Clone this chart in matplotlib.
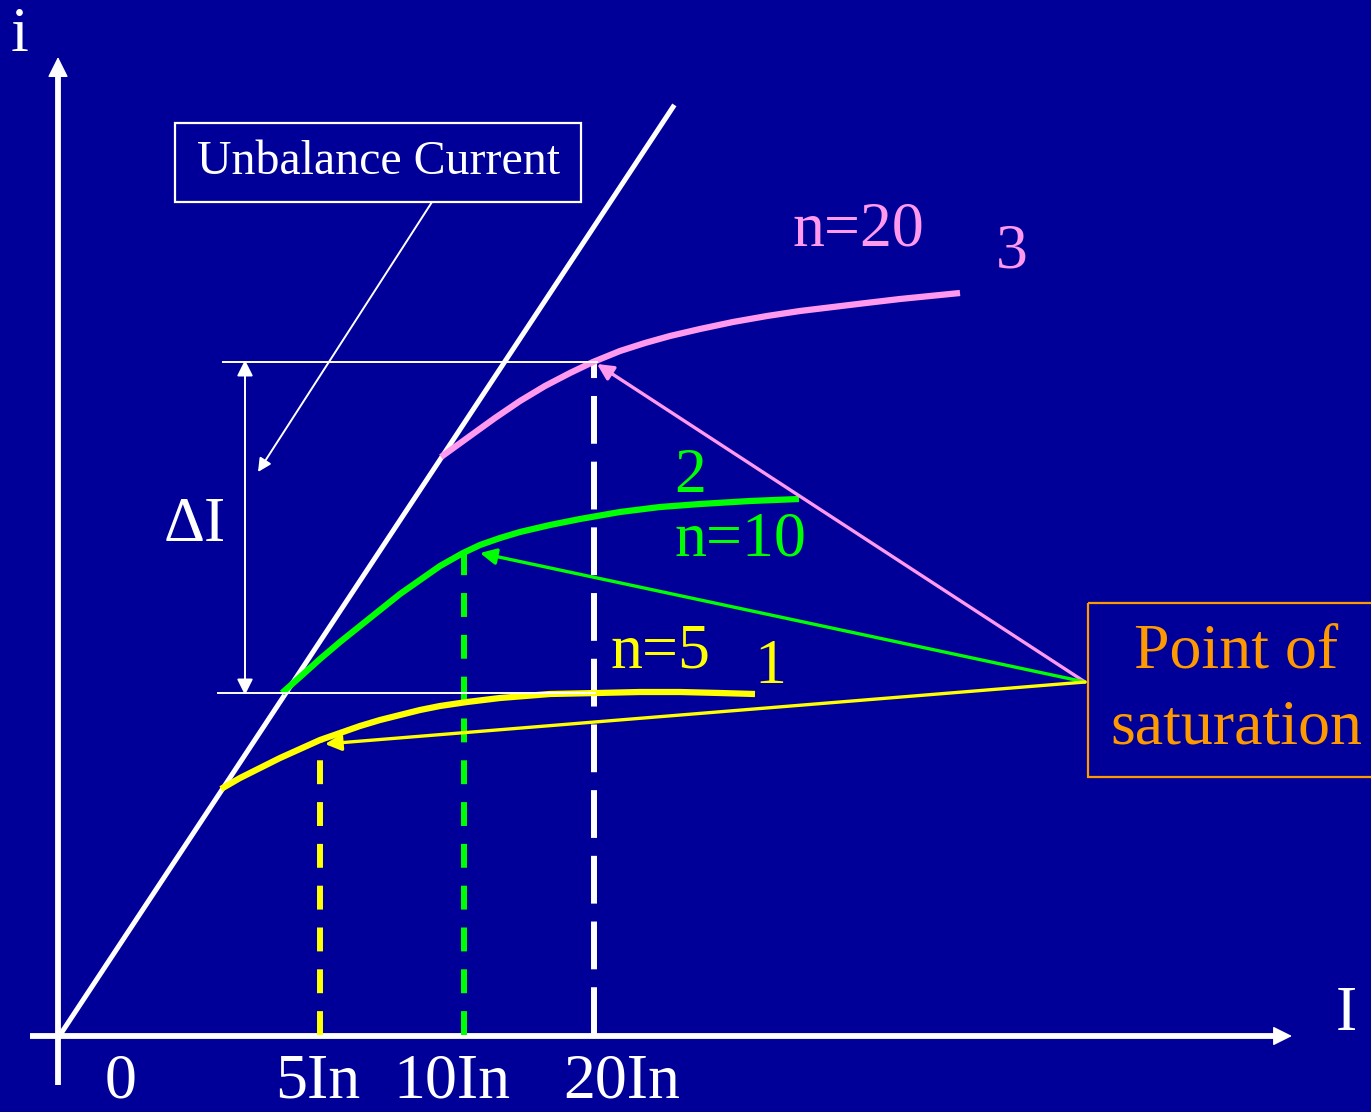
import matplotlib.pyplot as plt

# everything is in picture coordinates: x to the right, y downwards
BG = '#000099'
PINK = '#ff99ee'
GREEN = '#00ff00'
YELLOW = '#ffff00'
ORANGE = '#ff9900'

origin = (60, 1035)
linear_end = (673, 107)

# saturation curves (n=20, n=10, n=5)
curve3_x = [441, 470, 495, 520, 545, 570, 593, 620, 645, 670, 700, 733, 767, 800, 833, 866, 900, 930, 960]
curve3_y = [457, 436, 418, 401, 386, 373, 362, 351, 343, 336, 329, 322, 316, 311, 307, 303, 299, 296, 293]
curve2_x = [282, 300, 320, 340, 360, 380, 400, 420, 440, 463, 480, 500, 520, 550, 580, 620, 660, 700, 750, 799]
curve2_y = [693, 677, 659, 642, 626, 610, 594, 580, 566, 553, 545, 538, 532, 525, 519, 512, 507, 504, 501, 499]
curve1_x = [221, 240, 260, 280, 300, 320, 340, 360, 380, 400, 420, 440, 467, 500, 550, 597, 640, 680, 720, 755]
curve1_y = [789, 778, 768, 758, 749, 740, 733, 726, 720, 715, 710, 706, 702, 698, 694, 693, 692, 692, 693, 694]

# knee points where the dashed verticals rise from the I axis
knee_x = [320, 464, 594]
knee_y = [741, 554, 362]
knee_colors = [YELLOW, GREEN, 'white']
knee_dashes = [(4, 3), (4, 3), (8, 3)]

tick_labels = ['0', '5In', '10In', '20In']
tick_x = [121, 318, 452, 622]

sat_point = (1085, 682)
sat_targets = [(597, 364), (480, 553), (325, 744)]
sat_colors = [PINK, GREEN, YELLOW]

fig = plt.figure(figsize=(13.71, 11.12), dpi=100)
fig.patch.set_facecolor(BG)
ax = fig.add_axes([0, 0, 1, 1])
ax.set_facecolor(BG)
ax.set_xlim(0, 1371)
ax.set_ylim(1112, 0)
ax.axis('off')

font = 'Liberation Serif'
FS = 46

# axes with arrows
ax.plot([58, 58], [1085, 70], color='white', lw=4.2, solid_capstyle='butt')
ax.annotate('', xy=(58, 57), xytext=(58, 80),
            arrowprops=dict(arrowstyle='-|>', color='white', lw=1, mutation_scale=32,
                            shrinkA=0, shrinkB=0))
ax.plot([30, 1275], [1036, 1036], color='white', lw=4.2, solid_capstyle='butt')
ax.annotate('', xy=(1292, 1036), xytext=(1268, 1036),
            arrowprops=dict(arrowstyle='-|>', color='white', lw=1, mutation_scale=30,
                            shrinkA=0, shrinkB=0))
ax.text(20, 36, 'i', color='white', fontsize=FS, family=font, ha='center', va='center')
ax.text(1346, 1015, 'I', color='white', fontsize=FS, family=font, ha='center', va='center')

for lab, x in zip(tick_labels, tick_x):
    ax.text(x, 1083, lab, color='white', fontsize=FS, family=font, ha='center', va='center')

# linear characteristic
ax.plot([origin[0], linear_end[0]], [origin[1], linear_end[1]], color='white', lw=3.6)

# dashed verticals, dash pattern starting at the I axis
for x, y, c, d in zip(knee_x, knee_y, knee_colors, knee_dashes):
    ax.plot([x, x], [1035, y], color=c, lw=4.3, dashes=d, dash_capstyle='butt')

# curves
ax.plot(curve3_x, curve3_y, color=PINK, lw=4.5, solid_capstyle='butt', solid_joinstyle='round')
ax.plot(curve2_x, curve2_y, color=GREEN, lw=4.5, solid_capstyle='butt', solid_joinstyle='round')
ax.plot(curve1_x, curve1_y, color=YELLOW, lw=4.5, solid_capstyle='butt', solid_joinstyle='round')

ax.text(858, 230, 'n=20', color=PINK, fontsize=FS, family=font, ha='center', va='center')
ax.text(1012, 253, '3', color=PINK, fontsize=FS, family=font, ha='center', va='center')
ax.text(690, 477, '2', color=GREEN, fontsize=FS, family=font, ha='center', va='center')
ax.text(740, 540, 'n=10', color=GREEN, fontsize=FS, family=font, ha='center', va='center')
ax.text(660, 653, 'n=5', color=YELLOW, fontsize=FS, family=font, ha='center', va='center')
ax.text(770, 668, '1', color=YELLOW, fontsize=FS, family=font, ha='center', va='center')

# delta I dimension
ax.plot([223, 597], [362, 362], color='white', lw=1.4)
ax.plot([218, 595], [693, 693], color='white', lw=1.4)
ax.annotate('', xy=(245, 360), xytext=(245, 695),
            arrowprops=dict(arrowstyle='<|-|>', color='white', lw=1.4, mutation_scale=24,
                            shrinkA=0, shrinkB=0))
ax.text(195, 526, 'ΔI', color='white', fontsize=FS, family=font, ha='center', va='center')

# Unbalance current box
ax.add_patch(plt.Rectangle((175, 123), 406, 79, fill=False, edgecolor='white', lw=1.6))
ax.text(379, 162, 'Unbalance Current', color='white', fontsize=34.5, family=font,
        ha='center', va='center')
ax.annotate('', xy=(258, 472), xytext=(432, 202),
            arrowprops=dict(arrowstyle='-|>', color='white', lw=1.4, mutation_scale=20,
                            shrinkA=0, shrinkB=0))

# point of saturation
for (tx, ty), c in zip(sat_targets, sat_colors):
    ax.annotate('', xy=(tx, ty), xytext=sat_point,
                arrowprops=dict(arrowstyle='-|>', color=c, lw=2.4, mutation_scale=24,
                                shrinkA=0, shrinkB=0))
ax.add_patch(plt.Rectangle((1088, 603), 290, 174, fill=False, edgecolor=ORANGE, lw=1.6))
ax.text(1236, 653, 'Point of', color=ORANGE, fontsize=FS, family=font, ha='center', va='center')
ax.text(1236, 728, 'saturation', color=ORANGE, fontsize=FS, family=font, ha='center', va='center')

fig.savefig('out.png', dpi=100, facecolor=BG)
